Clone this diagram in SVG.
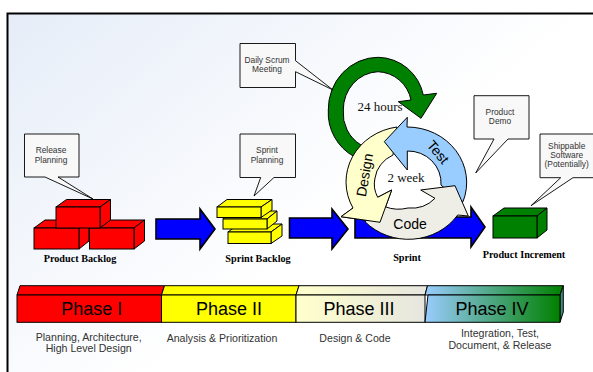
<svg xmlns="http://www.w3.org/2000/svg" width="593" height="372" viewBox="0 0 593 372">
<defs>
<linearGradient id="bg" x1="0" y1="0" x2="1" y2="0.75"><stop offset="0" stop-color="#e6edf8"/><stop offset="0.62" stop-color="#ffffff"/></linearGradient>
<linearGradient id="g3" x1="0" x2="1" y1="0" y2="0"><stop offset="0" stop-color="#ffffcc"/><stop offset="1" stop-color="#e6e6e0"/></linearGradient>
<linearGradient id="g4" x1="0" x2="1" y1="0" y2="0"><stop offset="0" stop-color="#99ccff"/><stop offset="1" stop-color="#008000"/></linearGradient>
</defs>
<style>
.e{stroke:#000;stroke-width:1;stroke-linejoin:miter}
.call{fill:#f8f8f8;stroke:#000;stroke-width:.9}
.c{font-family:"Liberation Sans",Arial,sans-serif;font-size:8.400px;fill:#333;text-anchor:middle}
.cap{font-family:"Liberation Sans",Arial,sans-serif;font-size:10.600px;fill:#333;text-anchor:middle}
.b{font-family:"Liberation Serif","Times New Roman",serif;font-weight:bold;font-size:10.200px;fill:#000;text-anchor:middle}
.s{font-family:"Liberation Serif","Times New Roman",serif;font-size:13px;fill:#111;text-anchor:middle}
.l{font-family:"Liberation Sans",Arial,sans-serif;font-size:14px;fill:#000;text-anchor:middle}
.p{font-family:"Liberation Sans",Arial,sans-serif;font-size:18px;fill:#000;text-anchor:middle}
.blue{fill:#0000ff;stroke:#000;stroke-width:1.6}
.red{fill:#ff0000}.yel{fill:#ffff00}.grn{fill:#008000}
</style>
<rect id="background" x="7.500" y="13.500" width="600" height="370" fill="url(#bg)" stroke="#000" stroke-width="2"/>

<g id="connectors">
<path class="blue" d="M156 219H200V209L215 229L200 249V239H156Z"/>
<path class="blue" d="M289.500 218H332V209L348 229L332 249V238H289.500Z"/>
<path class="blue" d="M355 217H471V207L485 227L471 247V238H355Z"/>
</g>

<g id="product-backlog">
<path class="e red" d="M34 228L45 220H89V228Z"/><path class="e red" d="M79 228L89 220V241L79 249Z"/><rect class="e red" x="34" y="228" width="45" height="21"/>
<path class="e red" d="M89.500 228L100 220H144.500L134 228Z"/><path class="e red" d="M134 228L144.500 220V241L134 249Z"/><rect class="e red" x="89.500" y="228" width="44.500" height="21"/>
<path class="e red" d="M56 207L66.500 199.500H110.500L100 207Z"/><path class="e red" d="M100 207L110.500 199.500V220L100 228Z"/><rect class="e red" x="56" y="207" width="44" height="21"/>
<text class="b" x="80" y="262">Product Backlog</text>
</g>

<g id="sprint-backlog">
<path class="e yel" d="M228 232L239 224H282L271 232Z"/><path class="e yel" d="M271 232L282 224V236L271 243.500Z"/><rect class="e yel" x="228" y="232" width="43" height="11.500"/>
<path class="e yel" d="M223 219L234 211H277L267 219Z"/><path class="e yel" d="M267 219L277 211V221L267 229Z"/><rect class="e yel" x="223" y="219" width="44" height="10"/>
<path class="e yel" d="M217 207L227 199.500H272L261 207Z"/><path class="e yel" d="M261 207L272 199.500V210L261 217.500Z"/><rect class="e yel" x="217" y="207" width="44" height="10.500"/>
<text class="b" x="258" y="262">Sprint Backlog</text>
</g>

<g id="daily-cycle">
<path class="e grn" d="M354.300 156.700A50 50 0 0 1 328.300 110A50 52 0 0 1 378.300 57.300A47 47 0 0 1 423.300 95L436.700 93.300L421 118.300L398.300 101.700L411 100A35 35 0 0 0 378 71.700A36 38 0 0 0 343.300 110A37 37 0 0 0 361 145Z"/>
<text class="s" x="380" y="111">24 hours</text>
</g>

<g id="sprint-cycle">
<path class="e" fill="#ffffcc" d="M397 127A59.500 55.500 0 0 0 353 208L341 216.700L380 222.300L391.700 190L377.700 197.300A33 30 0 0 1 375 178A33 30 0 0 1 393 155Z"/>
<path class="e" fill="#99ccff" d="M407 127A59.500 55.500 0 0 1 463 201.700L452 195L441 185A33 32 0 0 0 407.300 151V170L384.300 141.700L407.300 117.300Z"/>
<path class="e" fill="#eeeee6" d="M365 221.700A59.500 55.500 0 0 0 457.700 215L468.300 216L455 185.700L420.700 190L435 198.300A32 30 0 0 1 408 208A34 30 0 0 1 385 206.700Z"/>
<path fill="#ffffcc" d="M353 208L341 216.700L380 222.300L391.700 190L377.700 197.300Z"/>
<path fill="none" stroke="#000" d="M353 208L341 216.700L380 222.300L391.700 190L377.700 197.300"/>
<text class="l" transform="translate(364.500 175) rotate(-80)" y="5">Design</text>
<text class="l" transform="translate(438 152) rotate(50)" y="5">Test</text>
<text class="l" x="410" y="228.500">Code</text>
<text class="s" x="406" y="182">2 week</text>
</g>

<g id="product-increment">
<path class="e grn" d="M493 216L504 208H547L537 216Z"/><path class="e grn" d="M537 216L547 208V230L537 238Z"/><rect class="e grn" x="493" y="216" width="44" height="22"/>
<text class="b" x="524" y="258">Product Increment</text>
</g>

<g id="sprint-label"><text class="b" x="407" y="261">Sprint</text></g>

<g id="release-planning">
<path class="call" d="M24.500 134H79V177H58L93 199L45 177H24.500Z"/>
<text class="c" x="51" y="153">Release</text><text class="c" x="51" y="163">Planning</text>
</g>
<g id="sprint-planning">
<path class="call" d="M240 134H295.500V177.500H274L254 196L260.700 177.500H240Z"/>
<text class="c" x="267" y="153">Sprint</text><text class="c" x="267" y="163">Planning</text>
</g>
<g id="daily-scrum">
<path class="call" d="M240 43.500H295.500V60.700L333 90L295.500 71.700V87.500H240Z"/>
<text class="c" x="267" y="63">Daily Scrum</text><text class="c" x="267" y="72">Meeting</text>
</g>
<g id="product-demo">
<path class="call" d="M474 95.700H529V139H508L475.700 173L494 139H474Z"/>
<text class="c" x="500" y="114.700">Product</text><text class="c" x="500" y="124">Demo</text>
</g>
<g id="shippable">
<path class="call" d="M540 134H594V177.700H573L531 205.700L560.700 177.700H540Z"/>
<text class="c" x="566.700" y="148.700">Shippable</text><text class="c" x="566.700" y="158">Software</text><text class="c" x="566.700" y="167">(Potentially)</text>
</g>

<g id="phase-1">
<path class="e red" d="M17 295L20 285.700H164.500L161.500 295Z"/><rect class="e red" x="17" y="295" width="144.500" height="27.300"/>
<text class="p" x="91.700" y="315">Phase I</text>
<text class="cap" x="88.700" y="340.700">Planning, Architecture,</text><text class="cap" x="88.700" y="352">High Level Design</text>
</g>
<g id="phase-2">
<path class="e yel" d="M161.500 295L164.500 285.700H299L296 295Z"/><rect class="e yel" x="161.500" y="295" width="134.500" height="27.300"/>
<text class="p" x="229" y="315">Phase II</text>
<text class="cap" x="222" y="341.700">Analysis &amp; Prioritization</text>
</g>
<g id="phase-3">
<path class="e" fill="url(#g3)" d="M296 295L299 285.700H427.500L425 295Z"/><rect class="e" fill="url(#g3)" x="296" y="295" width="129" height="27.300"/>
<text class="p" x="359" y="315">Phase III</text>
<text class="cap" x="355" y="341.700">Design &amp; Code</text>
</g>
<g id="phase-4">
<path class="e" fill="url(#g4)" d="M425 295L427.500 285.700H563.300L560 295Z"/>
<path class="e" fill="#3f8f7f" d="M560 295L563.300 285.700V312L560 322.300Z"/>
<path class="e" fill="url(#g4)" d="M428 295H560V322.300H425Z"/>
<text class="p" x="492" y="315">Phase IV</text>
<text class="cap" x="500" y="337">Integration, Test,</text><text class="cap" x="500" y="349">Document, &amp; Release</text>
</g>
</svg>
